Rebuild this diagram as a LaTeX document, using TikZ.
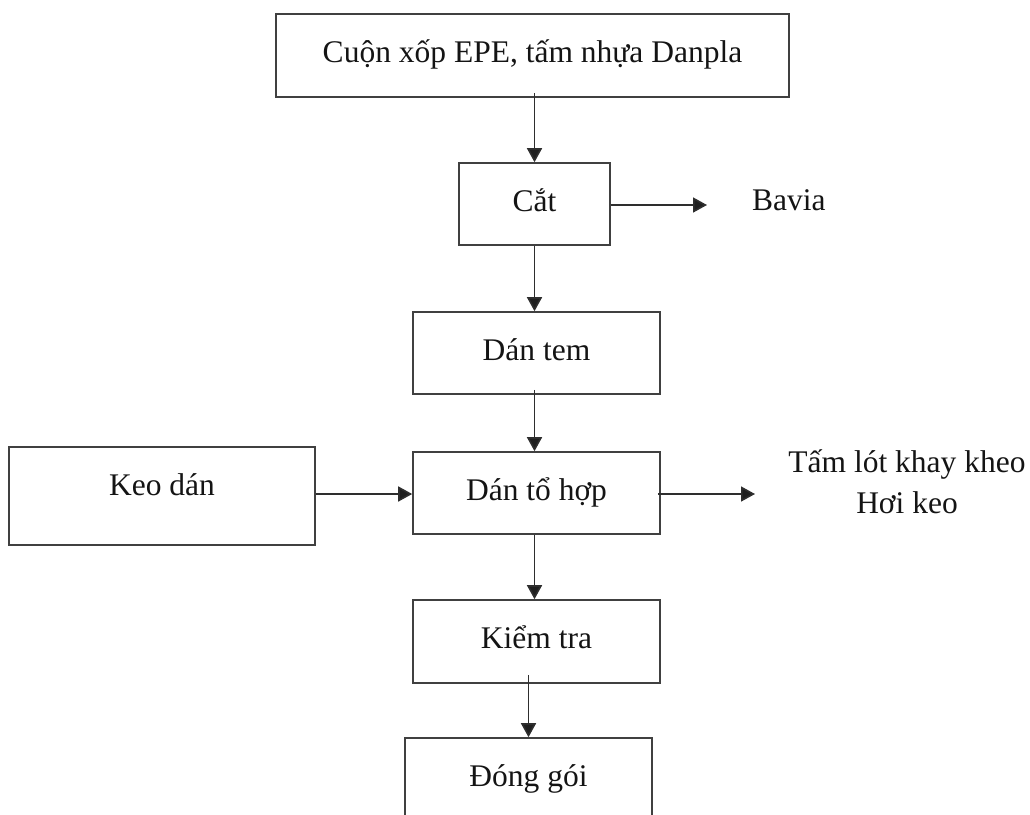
\documentclass[tikz,border=0pt]{standalone}
\usepackage{fontspec}
\setmainfont{Liberation Serif}
\usetikzlibrary{arrows.meta}

\tikzset{
  txt/.style={font=\fontsize{31.5pt}{40pt}\selectfont, inner sep=0pt, text=black!92},
  box/.style={txt, draw=black!75, line width=1.6pt, minimum height=82pt,
              text height=21pt, text depth=7pt},
  flow/.style={draw=black!82, line width=1.6pt,
               -{Triangle[length=14pt,width=15pt,fill=black!88]}},
}

\begin{document}
\begin{tikzpicture}[x=1pt, y=-1pt]
  \clip (0,0) rectangle (1030,814);

  % process boxes
  \node[box, minimum width=513pt, minimum height=83pt] (src) at (532.5,55.5) {Cuộn xốp EPE, tấm nhựa Danpla};
  \node[box, minimum width=151pt] (cat) at (534.5,204) {Cắt};
  \node[box, minimum width=247pt] (tem) at (536.5,353) {Dán tem};
  \node[box, minimum width=247pt] (hop) at (536.5,493) {Dán tổ hợp};
  \node[box, minimum width=306pt, minimum height=98pt, text height=10pt, text depth=12pt] (keo) at (162,496) {Keo dán};
  \node[box, minimum width=247pt, minimum height=83pt] (kt) at (536.5,641.5) {Kiểm tra};
  \node[box, minimum width=247pt] (dg) at (528.5,779) {Đóng gói};

  % by-products
  \node[txt, anchor=base west] (bavia) at (752,210) {Bavia};
  \node[txt, anchor=base] (out1) at (907,472) {Tấm lót khay kheo};
  \node[txt, anchor=base] (out2) at (907,513) {Hơi keo};
  \coordinate (baviaTip) at (707,205);
  \coordinate (outTip) at (755,494);

  % main flow
  \draw[flow, shorten <=-5pt] (src.south -| cat.north) -- (cat.north);
  \draw[flow] (cat.south) -- (cat.south |- tem.north);
  \draw[flow, shorten <=-5pt] (tem.south -| cat.south) -- (cat.south |- hop.north);
  \draw[flow] (hop.south -| cat.south) -- (cat.south |- kt.north);
  \draw[flow, shorten <=-9pt] (kt.south -| dg.north) -- (dg.north);

  % side flows
  \draw[flow] (cat.east |- baviaTip) -- (baviaTip);
  \draw[flow] (keo.east |- outTip) -- (hop.west |- outTip);
  \draw[flow, shorten <=-3pt] (hop.east |- outTip) -- (outTip);
\end{tikzpicture}
\end{document}
